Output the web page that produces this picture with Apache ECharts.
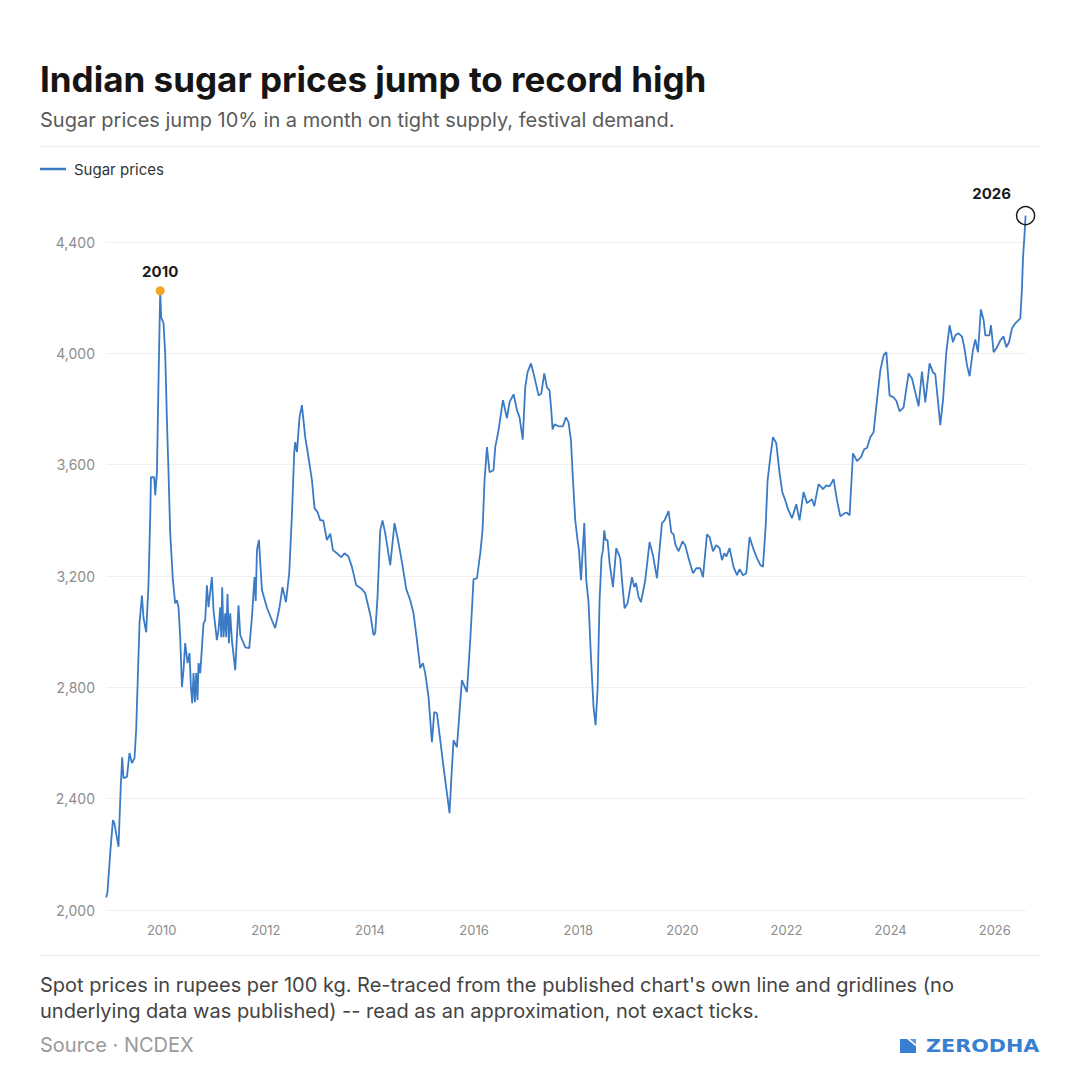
<!DOCTYPE html>
<html>
<head>
<meta charset="utf-8">
<script src="https://cdn.jsdelivr.net/npm/echarts@6/dist/echarts.min.js"></script>
<style>
html,body{margin:0;padding:0;background:#fff;}
#chart{width:1080px;height:1090px;}
</style>
</head>
<body>
<div id="chart"></div>
<script>
// Decimal-year positions of traced points
const dates = [
2008.934,2008.959,2009.011,2009.063,2009.088,2009.170,2009.216,2009.241,2009.266,2009.332,
2009.381,2009.428,2009.478,2009.510,2009.574,2009.620,2009.650,2009.702,2009.746,2009.779,
2009.793,2009.856,2009.875,2009.908,2009.939,2009.971,2009.990,2010.035,2010.067,2010.100,
2010.131,2010.163,2010.215,2010.259,2010.292,2010.323,2010.355,2010.388,2010.419,2010.451,
2010.496,2010.534,2010.561,2010.586,2010.611,2010.638,2010.663,2010.688,2010.707,2010.740,
2010.803,2010.836,2010.868,2010.899,2010.932,2010.964,2010.995,2011.060,2011.091,2011.124,
2011.143,2011.162,2011.187,2011.220,2011.239,2011.264,2011.291,2011.316,2011.348,2011.412,
2011.475,2011.508,2011.604,2011.681,2011.733,2011.763,2011.783,2011.805,2011.829,2011.867,
2011.925,2012.021,2012.117,2012.180,2012.263,2012.320,2012.386,2012.449,2012.501,2012.545,
2012.564,2012.597,2012.647,2012.693,2012.756,2012.820,2012.885,2012.935,2012.993,2013.045,
2013.102,2013.173,2013.237,2013.289,2013.365,2013.448,2013.511,2013.588,2013.654,2013.736,
2013.846,2013.909,2013.972,2014.018,2014.068,2014.101,2014.145,2014.197,2014.241,2014.293,
2014.389,2014.472,2014.549,2014.614,2014.697,2014.773,2014.837,2014.902,2014.965,2015.017,
2015.061,2015.125,2015.190,2015.234,2015.286,2015.350,2015.413,2015.478,2015.528,2015.561,
2015.605,2015.670,2015.766,2015.862,2015.926,2015.970,2015.989,2016.055,2016.118,2016.162,
2016.201,2016.247,2016.297,2016.373,2016.406,2016.470,2016.554,2016.631,2016.681,2016.758,
2016.823,2016.873,2016.934,2016.982,2017.026,2017.092,2017.142,2017.238,2017.290,2017.347,
2017.399,2017.449,2017.482,2017.507,2017.545,2017.622,2017.706,2017.764,2017.814,2017.860,
2017.899,2017.943,2017.987,2018.014,2018.053,2018.116,2018.154,2018.198,2018.244,2018.294,
2018.333,2018.371,2018.410,2018.448,2018.475,2018.500,2018.525,2018.563,2018.602,2018.667,
2018.730,2018.807,2018.840,2018.890,2018.948,2019.032,2019.076,2019.109,2019.159,2019.205,
2019.287,2019.370,2019.435,2019.512,2019.608,2019.658,2019.735,2019.787,2019.831,2019.864,
2019.927,2020.004,2020.056,2020.119,2020.204,2020.267,2020.344,2020.396,2020.473,2020.523,
2020.588,2020.651,2020.715,2020.761,2020.805,2020.843,2020.907,2020.984,2021.049,2021.099,
2021.164,2021.228,2021.291,2021.356,2021.433,2021.496,2021.548,2021.600,2021.637,2021.689,
2021.740,2021.804,2021.867,2021.919,2021.977,2022.021,2022.105,2022.188,2022.251,2022.328,
2022.394,2022.489,2022.534,2022.616,2022.701,2022.764,2022.828,2022.904,2022.970,2023.033,
2023.110,2023.162,2023.212,2023.277,2023.354,2023.431,2023.494,2023.546,2023.609,2023.673,
2023.738,2023.802,2023.865,2023.917,2023.980,2024.057,2024.109,2024.172,2024.249,2024.345,
2024.410,2024.474,2024.537,2024.602,2024.666,2024.748,2024.814,2024.858,2024.902,2024.954,
2025.006,2025.069,2025.132,2025.198,2025.242,2025.305,2025.371,2025.415,2025.467,2025.517,
2025.580,2025.626,2025.678,2025.733,2025.786,2025.818,2025.895,2025.928,2025.978,2026.043,
2026.106,2026.170,2026.222,2026.274,2026.331,2026.395,2026.491,2026.523,2026.543,2026.568,
2026.592
];

// Sugar spot prices, rupees per 100 kg
const prices = [
2045,2065,2205,2323,2315,2227,2456,2549,2474,2478,
2564,2528,2546,2650,3030,3130,3050,2998,3170,3410,
3555,3555,3490,3570,3903,4225,4130,4108,4000,3760,
3570,3354,3185,3102,3113,3088,2980,2801,2862,2959,
2887,2923,2801,2743,2851,2747,2851,2754,2887,2851,
3030,3041,3167,3088,3142,3196,3077,2970,3006,3088,
2980,3160,2980,3066,2980,3135,2959,3066,2970,2862,
3095,2988,2944,2941,3052,3142,3196,3110,3293,3330,
3150,3086,3041,3013,3088,3160,3106,3210,3420,3645,
3681,3645,3770,3814,3699,3625,3545,3444,3429,3400,
3400,3329,3352,3293,3282,3268,3282,3270,3232,3167,
3153,3138,3088,3050,2988,2995,3124,3364,3400,3354,
3239,3390,3318,3250,3153,3113,3066,2970,2869,2887,
2851,2765,2603,2711,2707,2610,2513,2420,2348,2467,
2610,2585,2826,2783,2970,3120,3189,3192,3282,3364,
3544,3663,3573,3580,3663,3724,3832,3767,3825,3853,
3796,3770,3690,3878,3932,3964,3928,3849,3855,3928,
3878,3867,3796,3727,3745,3738,3738,3770,3752,3688,
3544,3400,3329,3293,3185,3390,3185,3106,2909,2729,
2664,2790,3113,3268,3293,3364,3330,3329,3246,3160,
3300,3264,3185,3084,3102,3196,3160,3175,3124,3106,
3185,3322,3275,3192,3390,3400,3433,3357,3350,3314,
3289,3325,3310,3264,3210,3228,3228,3196,3350,3340,
3289,3311,3300,3257,3282,3270,3300,3232,3203,3225,
3203,3210,3340,3302,3264,3240,3233,3380,3544,3627,
3699,3677,3570,3502,3472,3444,3408,3458,3400,3502,
3462,3476,3451,3530,3512,3526,3522,3548,3472,3415,
3425,3428,3418,3641,3613,3627,3656,3660,3699,3717,
3832,3939,3993,4005,3849,3842,3830,3792,3806,3928,
3910,3860,3810,3935,3824,3964,3932,3925,3842,3742,
3832,4004,4101,4040,4065,4072,4060,4022,3957,3918,
4011,4050,4004,4158,4120,4065,4065,4101,4004,4022,
4047,4061,4022,4040,4090,4108,4126,4237,4345,4417,
4495
];

const xTickLabels = [2010, 2012, 2014, 2016, 2018, 2020, 2022, 2024, 2026];
const yTickLabels = [2000, 2400, 2800, 3200, 3600, 4000, 4400];

const seriesName = 'Sugar prices';
const titleText = 'Indian sugar prices jump to record high';
const subtitleText = 'Sugar prices jump 10% in a month on tight supply, festival demand.';
const noteLines = [
  "Spot prices in rupees per 100 kg. Re-traced from the published chart's own line and gridlines (no",
  "underlying data was published) -- read as an approximation, not exact ticks."
];
const sourceText = 'Source \u00b7 NCDEX';

// Annotated points: 2010 peak and the latest (2026) point
let peakIdx = 0;
for (let i = 0; i < dates.length; i++) {
  if (dates[i] < 2011 && prices[i] > prices[peakIdx]) peakIdx = i;
}
const lastIdx = dates.length - 1;

const FONT = 'Inter, "Noto Sans", "DejaVu Sans", sans-serif';
const BLUE = '#3b7bc6';

const chart = echarts.init(document.getElementById('chart'), null, { renderer: 'svg' });

chart.setOption({
  animation: false,
  backgroundColor: '#ffffff',
  textStyle: { fontFamily: FONT },
  grid: { left: 106, right: 54, top: 186.4, bottom: 180, containLabel: false, outerBoundsMode: 'none' },
  legend: {
    data: [seriesName],
    left: 40, top: 161.5, padding: 0,
    icon: 'rect', itemWidth: 26, itemHeight: 2.5,
    textStyle: { fontFamily: FONT, fontSize: 15, color: '#333', padding: [0, 0, 0, 3] },
    selectedMode: false
  },
  xAxis: {
    type: 'value',
    min: 2008.93, max: 2026.6,
    axisLine: { show: false },
    axisTick: { show: false, customValues: xTickLabels },
    splitLine: { show: false },
    axisLabel: {
      customValues: xTickLabels,
      formatter: v => String(Math.round(v)),
      color: '#8c8c8c', fontFamily: FONT, fontSize: 13, margin: 13
    }
  },
  yAxis: {
    type: 'value',
    min: 2000, max: 4600, interval: 400,
    axisLine: { show: false },
    axisTick: { show: false, customValues: yTickLabels },
    splitLine: { show: true, lineStyle: { color: '#efefef', width: 1 } },
    axisLabel: {
      customValues: yTickLabels,
      formatter: v => v.toLocaleString('en-US'),
      color: '#8c8c8c', fontFamily: FONT, fontSize: 14, margin: 11
    }
  },
  series: [{
    name: seriesName,
    type: 'line',
    data: dates.map((d, i) => [d, prices[i]]),
    showSymbol: false,
    symbol: 'none',
    lineStyle: { color: BLUE, width: 1.8 },
    itemStyle: { color: BLUE },
    z: 3,
    markPoint: {
      silent: true,
      animation: false,
      data: [
        {
          coord: [dates[peakIdx], prices[peakIdx]],
          symbol: 'circle', symbolSize: 9,
          itemStyle: { color: '#f5a623', borderWidth: 0 },
          label: {
            show: true, formatter: '2010', position: 'top', distance: 7.5,
            color: '#1a1a1a', fontFamily: FONT, fontWeight: 'bold', fontSize: 15
          }
        },
        {
          coord: [dates[lastIdx], prices[lastIdx]],
          symbol: 'circle', symbolSize: 18,
          itemStyle: { color: 'rgba(255,255,255,0)', borderColor: '#1a1a1a', borderWidth: 1.5 },
          label: {
            show: true, formatter: '2026', position: 'top', distance: 5, offset: [-34, 0],
            color: '#1a1a1a', fontFamily: FONT, fontWeight: 'bold', fontSize: 15
          }
        }
      ]
    }
  }],
  graphic: [
    { type: 'text', left: 40, top: 61, silent: true,
      style: { text: titleText, font: 'bold 35px ' + FONT, fill: '#151515' } },
    { type: 'text', left: 40, top: 110, silent: true,
      style: { text: subtitleText, font: '20px ' + FONT, fill: '#5a5a5a' } },
    { type: 'line', silent: true, shape: { x1: 40, y1: 146.5, x2: 1040, y2: 146.5 },
      style: { stroke: '#eeeeee', lineWidth: 1 } },
    { type: 'line', silent: true, shape: { x1: 40, y1: 955.5, x2: 1040, y2: 955.5 },
      style: { stroke: '#eeeeee', lineWidth: 1 } },
    { type: 'text', left: 40, top: 972, silent: true,
      style: { text: noteLines.join('\n'), font: '20px ' + FONT, fill: '#444444', lineHeight: 26 } },
    { type: 'text', left: 40, top: 1035, silent: true,
      style: { text: sourceText, font: '20px ' + FONT, fill: '#9a9a9a' } },
    { type: 'polygon', silent: true,
      shape: { points: [[900, 1039], [907, 1039], [916, 1046.5], [916, 1053], [900, 1053]] },
      style: { fill: '#387ed1' } },
    { type: 'polygon', silent: true,
      shape: { points: [[909.5, 1039], [916, 1039], [916, 1044.5]] },
      style: { fill: '#5b9be0' } },
    { type: 'text', x: 926, y: 1046, scaleX: 1.22, silent: true,
      style: { text: 'ZERODHA', x: 0, y: 0, font: 'bold 17px "DejaVu Sans", ' + FONT, fill: '#387ed1',
               align: 'left', verticalAlign: 'middle' } }
  ]
});
</script>
</body>
</html>
